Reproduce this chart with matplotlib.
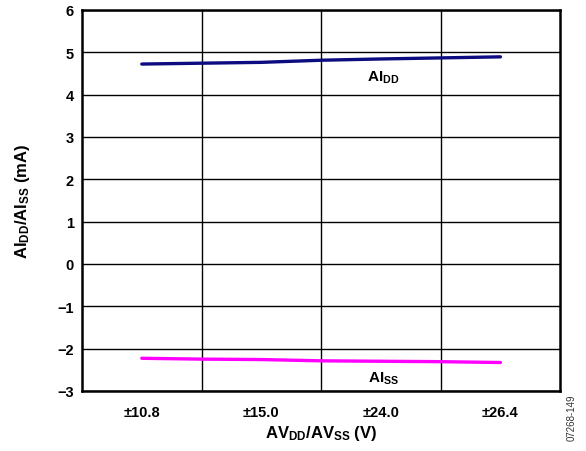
import matplotlib
matplotlib.use("Agg")
import matplotlib.pyplot as plt

plt.rcParams['font.family'] = ['Liberation Sans', 'DejaVu Sans']
plt.rcParams['mathtext.fontset'] = 'custom'
plt.rcParams['mathtext.rm'] = 'Liberation Sans:bold'
plt.rcParams['mathtext.bf'] = 'Liberation Sans:bold'
plt.rcParams['mathtext.it'] = 'Liberation Sans:bold'

# supply settings (categories) and measured currents
categories = ['±10.8', '±15.0', '±24.0', '±26.4']
x_pos = [0.5, 1.0, 1.5, 2.0, 2.5, 3.0, 3.5]
ai_dd = [4.72, 4.74, 4.76, 4.81, 4.84, 4.865, 4.89]
ai_ss = [-2.23, -2.25, -2.26, -2.29, -2.30, -2.31, -2.33]

fig = plt.figure(figsize=(5.86, 4.52), dpi=100)
ax = fig.add_axes([0.140, 0.133, 0.816, 0.843])

ax.plot(x_pos, ai_dd, color='#0c0c80', linewidth=2.4, solid_capstyle='round')
ax.plot(x_pos, ai_ss, color='#ff00ff', linewidth=2.4, solid_capstyle='round')

ax.set_xlim(0, 4)
ax.set_ylim(-3, 6)
ax.set_xticks([0.5, 1.5, 2.5, 3.5])
ax.set_xticklabels(categories)
ax.set_xticks([1, 2, 3], minor=True)
ax.set_yticks(range(-3, 7))
ax.tick_params(which='both', length=0, labelsize=10.5, pad=6)
for lab in ax.get_xticklabels() + ax.get_yticklabels():
    lab.set_fontweight('bold')
ax.tick_params(axis='x', pad=10)

ax.grid(True, which='minor', axis='x', color='black', linewidth=1)
ax.grid(True, which='major', axis='y', color='black', linewidth=1)
for s in ax.spines.values():
    s.set_linewidth(1.8)

ax.text(2.52, 4.42, r'$\mathbf{AI_{DD}}$', ha='center', va='center', fontsize=11)
ax.text(2.52, -2.70, r'$\mathbf{AI_{SS}}$', ha='center', va='center', fontsize=11)

ax.set_xlabel(r'$\mathbf{AV_{DD}/AV_{SS}}$ (V)', fontsize=12, fontweight='bold', labelpad=3)
ax.set_ylabel(r'$\mathbf{AI_{DD}/AI_{SS}}$ (mA)', fontsize=12, fontweight='bold', labelpad=18)

fig.text(0.976, 0.075, '07268-149', rotation=90, fontsize=7, color='#333333', ha='center', va='center')

fig.savefig('out.png', dpi=100)
